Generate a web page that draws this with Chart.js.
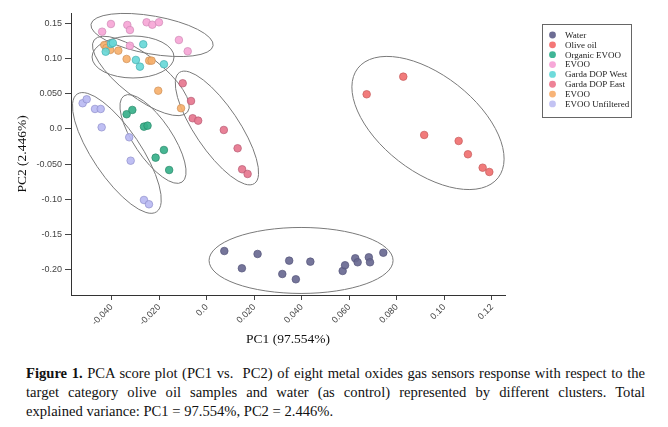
<!DOCTYPE html>
<html>
<head>
<meta charset="utf-8">
<script src="https://cdn.jsdelivr.net/npm/chart.js@4/dist/chart.umd.min.js"></script>
<style>
  html, body { margin: 0; padding: 0; background: #ffffff; }
  #wrap { position: absolute; left: 0; top: 0; width: 668px; height: 350px; }
  #caption { position: absolute; left: 26px; top: 364px; width: 619px;
    font-family: "Liberation Serif", "DejaVu Serif", serif; font-size: 14.6px; line-height: 19px; color: #111; }
  #caption div { white-space: nowrap; }
  #caption div.j { text-align: justify; text-align-last: justify; }
</style>
</head>
<body>
<div id="wrap"><canvas id="c" width="668" height="350"></canvas></div>
<div id="caption">
  <div class="j"><b>Figure 1.</b> PCA score plot (PC1 vs.&nbsp; PC2) of eight metal oxides gas sensors response with respect to the</div>
  <div class="j">target category olive oil samples and water (as control) represented by different clusters. Total</div>
  <div>explained variance: PC1 = 97.554%, PC2 = 2.446%.</div>
</div>
<script>
// ---------------- DATA ----------------
const CATEGORIES = ["Water", "Olive oil", "Organic EVOO", "EVOO", "Garda DOP West", "Garda DOP East", "EVOO", "EVOO Unfiltered"];

// [PC1, PC2] scores per series
const WATER = [[0.0074,-0.1731],[0.0148,-0.1976],[0.0214,-0.1773],[0.0318,-0.2057],[0.0347,-0.1868],[0.0375,-0.2132],[0.0436,-0.1882],[0.0572,-0.2014],[0.0582,-0.1933],[0.0625,-0.1834],[0.0635,-0.1891],[0.0682,-0.1820],[0.0687,-0.1891],[0.0743,-0.1755]];
const OLIVE_OIL = [[0.0827,0.0742],[0.0673,0.0492],[0.0915,-0.0085],[0.1060,-0.0170],[0.1099,-0.0359],[0.1161,-0.0549],[0.1189,-0.0610]];
const ORGANIC_EVOO = [[-0.0337,0.0209],[-0.0313,0.0270],[-0.0264,0.0033],[-0.0249,0.0047],[-0.0180,-0.0298],[-0.0215,-0.0407],[-0.0158,-0.0582]];
const EVOO_PINK = [[-0.0440,0.1380],[-0.0403,0.1489],[-0.0334,0.1475],[-0.0323,0.1404],[-0.0253,0.1513],[-0.0229,0.1479],[-0.0201,0.1513],[-0.0117,0.1262],[-0.0080,0.1102],[-0.0323,0.1181]];
const GARDA_WEST = [[-0.0425,0.1096],[-0.0403,0.1206],[-0.0395,0.1220],[-0.0267,0.1201],[-0.0298,0.0979],[-0.0281,0.0884],[-0.0180,0.0918]];
const GARDA_EAST = [[-0.0101,0.0648],[-0.0066,0.0397],[-0.0059,0.0152],[-0.0036,0.0118],[0.0072,-0.0014],[0.0130,-0.0274],[0.0149,-0.0572],[0.0172,-0.0638]];
const EVOO_ORANGE = [[-0.0431,0.1191],[-0.0422,0.1149],[-0.0406,0.1121],[-0.0372,0.1111],[-0.0337,0.0993],[-0.0242,0.0969],[-0.0232,0.0969],[-0.0204,0.0543],[-0.0108,0.0294]];
const EVOO_UNFILTERED = [[-0.0522,0.0365],[-0.0505,0.0421],[-0.0470,0.0284],[-0.0446,0.0284],[-0.0442,0.0024],[-0.0326,-0.0118],[-0.0320,-0.0450],[-0.0264,-0.1007],[-0.0243,-0.1068]];

const SERIES = [WATER, OLIVE_OIL, ORGANIC_EVOO, EVOO_PINK, GARDA_WEST, GARDA_EAST, EVOO_ORANGE, EVOO_UNFILTERED];

const X_TICKS = [-0.04, -0.02, 0.0, 0.02, 0.04, 0.06, 0.08, 0.10, 0.12];
const X_TICK_LABELS = ["-0.040", "-0.020", "0.0", "0.020", "0.040", "0.060", "0.080", "0.10", "0.12"];
const Y_TICKS = [0.15, 0.10, 0.05, 0.0, -0.05, -0.10, -0.15, -0.20];
const Y_TICK_LABELS = ["0.15", "0.10", "0.050", "0.0", "-0.050", "-0.10", "-0.15", "-0.20"];
const X_RANGE = [-0.0571, 0.1255];
const Y_RANGE = [-0.2355, 0.1645];

// cluster ellipse centres in data units (PC1, PC2)
const ELLIPSE_CENTERS = [[-0.0230,0.1333],[-0.0310,0.1021],[-0.0277,0.0752],[0.0043,0.0014],[0.0931,0.0085],[0.0397,-0.1865],[-0.0226,-0.0142],[-0.0378,-0.0340]];

// ---------------- STYLE ----------------
const FILLS = ["rgba(105,105,145,0.92)","rgba(240,112,112,0.92)","rgba(55,176,138,0.92)","rgba(246,166,214,0.92)","rgba(104,216,216,0.92)","rgba(230,118,142,0.92)","rgba(246,176,108,0.92)","rgba(186,186,242,0.92)"];
const BORDERS = ["#54547a","#c65c5c","#2a8a6a","#cf8ab6","#43afaf","#b85c74","#cf9058","#8f8fcc"];
const LEGEND_COLORS = ["#6d6d94","#f47777","#40b596","#f7a8d8","#6fdbdb","#ee8296","#f8b478","#c3c3f3"];
const ELLIPSE_SHAPES = [
  {rx:62, ry:19, angle:10},
  {rx:41, ry:21, angle:0},
  {rx:59, ry:21, angle:37.7},
  {rx:67, ry:22, angle:56},
  {rx:89, ry:48, angle:38},
  {rx:92, ry:33, angle:0},
  {rx:52, ry:19, angle:56},
  {rx:71, ry:24, angle:56}
];
const LEGEND_STYLE = {x:542, y:24, w:89, h:93, markerX:552.5, textX:565, firstRow:35, rowGap:9.85, r:3.4};

const ellipsePlugin = {
  id: 'clusterEllipses',
  beforeDatasetsDraw(chart) {
    const ctx = chart.ctx, xs = chart.scales.x, ys = chart.scales.y;
    ctx.save();
    ctx.strokeStyle = '#7a7a7a';
    ctx.lineWidth = 1;
    ELLIPSE_CENTERS.forEach((c, i) => {
      const s = ELLIPSE_SHAPES[i];
      ctx.beginPath();
      ctx.ellipse(xs.getPixelForValue(c[0]), ys.getPixelForValue(c[1]), s.rx, s.ry, s.angle * Math.PI / 180, 0, 2 * Math.PI);
      ctx.stroke();
    });
    ctx.restore();
  }
};

const legendPlugin = {
  id: 'boxLegend',
  afterDraw(chart) {
    const ctx = chart.ctx, L = LEGEND_STYLE;
    ctx.save();
    ctx.fillStyle = '#ffffff';
    ctx.fillRect(L.x, L.y, L.w, L.h);
    ctx.strokeStyle = '#666';
    ctx.lineWidth = 1;
    ctx.strokeRect(L.x + 0.5, L.y + 0.5, L.w, L.h);
    chart.data.datasets.forEach((ds, i) => {
      const cy = L.firstRow + i * L.rowGap;
      ctx.beginPath();
      ctx.arc(L.markerX, cy, L.r, 0, 2 * Math.PI);
      ctx.fillStyle = LEGEND_COLORS[i];
      ctx.fill();
      ctx.fillStyle = '#222';
      ctx.font = '9px "Liberation Serif"';
      ctx.textBaseline = 'middle';
      ctx.textAlign = 'left';
      ctx.fillText(ds.label, L.textX, cy + 0.5);
    });
    ctx.restore();
  }
};

const datasets = SERIES.map((pts, i) => ({
  label: CATEGORIES[i],
  data: pts.map(p => ({x: p[0], y: p[1]})),
  backgroundColor: FILLS[i],
  borderColor: BORDERS[i],
  borderWidth: 0.7,
  pointRadius: 3.8,
  pointHoverRadius: 3.8
}));

const tickFont = {family: '"Liberation Sans", Arial, sans-serif', size: 9};

new Chart(document.getElementById('c'), {
  type: 'scatter',
  data: {datasets},
  options: {
    responsive: false,
    animation: false,
    devicePixelRatio: 1,
    layout: {padding: {left: 0, right: 163, top: 13, bottom: 0}},
    plugins: {legend: {display: false}, tooltip: {enabled: false}},
    scales: {
      x: {
        type: 'linear', min: X_RANGE[0], max: X_RANGE[1],
        afterBuildTicks: s => { s.ticks = X_TICKS.map(v => ({value: v})); },
        afterFit: s => { s.height = 55; },
        ticks: {
          font: tickFont, color: '#444', padding: 2,
          minRotation: 45, maxRotation: 45, autoSkip: false,
          callback: (v, i) => X_TICK_LABELS[i]
        },
        grid: {drawOnChartArea: false, drawTicks: true, tickLength: 5, tickColor: '#444'},
        border: {display: true, color: '#333', width: 1},
        title: {display: true, text: 'PC1 (97.554%)', color: '#111',
          font: {family: '"Liberation Serif", serif', size: 13.5}, padding: {top: 2, bottom: 2}}
      },
      y: {
        type: 'linear', min: Y_RANGE[0], max: Y_RANGE[1],
        afterBuildTicks: s => { s.ticks = Y_TICKS.map(v => ({value: v})); },
        afterFit: s => { s.width = 71; },
        ticks: {
          font: tickFont, color: '#444', padding: 3,
          callback: (v, i) => Y_TICK_LABELS[i]
        },
        grid: {drawOnChartArea: false, drawTicks: true, tickLength: 6, tickColor: '#444'},
        border: {display: true, color: '#333', width: 1},
        title: {display: true, text: 'PC2 (2.446%)', color: '#111',
          font: {family: '"Liberation Serif", serif', size: 13.5}, padding: {top: 14, bottom: 14}}
      }
    }
  },
  plugins: [ellipsePlugin, legendPlugin]
});
</script>
</body>
</html>
